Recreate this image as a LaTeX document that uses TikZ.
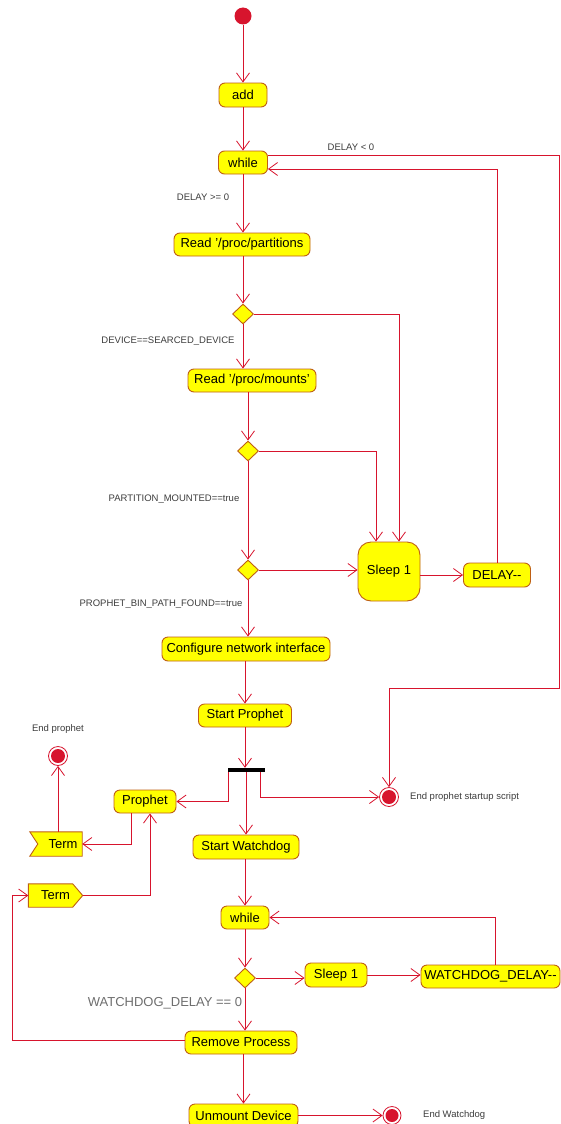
\documentclass[tikz,border=0pt]{standalone}
\usepackage{fontspec}
\setmainfont{Liberation Sans}
\usetikzlibrary{arrows.meta,shapes.geometric}
\definecolor{lred}{RGB}{215,20,45}
\definecolor{bord}{RGB}{190,95,20}
\definecolor{yel}{RGB}{255,255,0}
\definecolor{lbl}{RGB}{60,60,60}
\definecolor{lblg}{RGB}{110,110,110}
\begin{document}
\begin{tikzpicture}[x=1pt,y=-1pt,
  act/.style={draw=bord, fill=yel, rounded corners=6pt, inner sep=0pt, line width=0.9pt,
    font=\fontsize{13}{15}\selectfont, minimum height=23pt},
  dec/.style={diamond, draw=bord, fill=yel, inner sep=0pt, minimum width=21pt, minimum height=20pt, line width=0.9pt},
  flow/.style={draw=lred, line width=0.8pt, -{Straight Barb[length=9pt,width=13pt]}},
  lab/.style={font=\fontsize{9.5}{11}\selectfont, text=lbl, inner sep=0pt},
  biglab/.style={font=\fontsize{13}{15}\selectfont, text=lblg, inner sep=0pt},
  endst/.style={circle, draw=lred, fill=white, line width=0.8pt, minimum size=19pt, inner sep=0pt,
    path picture={\fill[lred] (path picture bounding box.center) circle (7pt);}},
  sig/.style={draw=bord, fill=yel, line width=0.9pt},
  sigtxt/.style={font=\fontsize{13}{15}\selectfont, inner sep=0pt},
]
\useasboundingbox (0,0) rectangle (561,1124);
\clip (0,0) rectangle (561,1124);

% nodes
\node[circle, fill=lred, minimum size=17pt, inner sep=0pt] (start) at (243,16) {};
\node[act, minimum width=48pt, minimum height=24pt] (add) at (243,95) {add};
\node[act, minimum width=49pt] (while1) at (243,162.5) {while};
\node[act, minimum width=136pt] (readpart) at (242,244.5) {Read '/proc/partitions};
\node[dec] (d1) at (243,314) {};
\node[act, minimum width=128pt] (readmnt) at (252,380.5) {Read '/proc/mounts'};
\node[dec] (d2) at (248,451) {};
\node[dec] (d3) at (248,570) {};
\node[act, rounded corners=13pt, minimum width=62pt, minimum height=59pt] (sleep1) at (389,571.5) {Sleep 1};
\node[act, minimum width=67pt, minimum height=24pt] (delay) at (497,575) {DELAY-{}-};
\node[act, minimum width=168pt, minimum height=24pt] (config) at (246,649) {Configure network interface};
\node[act, minimum width=93pt] (startp) at (245,715.5) {Start Prophet};
\node[fill=black, minimum width=37pt, minimum height=4pt, inner sep=0pt] (fork) at (246,770) {};
\node[act, minimum width=62pt] (prophet) at (145,801.5) {Prophet};
\node[endst] (endp) at (58,756) {};
\node[endst] (endscript) at (389,797) {};
\node[act, minimum width=106pt, minimum height=24pt] (startw) at (246,847) {Start Watchdog};
\node[minimum width=52pt, minimum height=24pt, inner sep=0pt] (term1) at (56,844) {};
\node[minimum width=54pt, minimum height=23pt, inner sep=0pt] (term2) at (55.5,895.5) {};
\node[act, minimum width=48pt] (while2) at (245,917.5) {while};
\node[dec] (d4) at (245,978) {};
\node[act, minimum width=62pt, minimum height=24pt] (sleep2) at (336,975) {Sleep 1};
\node[act, minimum width=139pt] (wdelay) at (490.5,976.5) {WATCHDOG\_DELAY-{}-};
\node[act, minimum width=112pt] (remove) at (241,1042.5) {Remove Process};
\node[act, minimum width=109pt] (unmount) at (243.5,1115.5) {Unmount Device};
\node[endst, minimum size=18pt, path picture={\fill[lred] (path picture bounding box.center) circle (6.5pt);}] (endw) at (392,1115.5) {};

% signal shapes
\draw[sig] (term1.north west) -- (term1.north east) -- (term1.south east) -- (term1.south west) -- ([xshift=8pt]term1.west) -- cycle;
\node[sigtxt] (term1t) at ([xshift=7pt]term1.center) {Term};
\draw[sig] (term2.north west) -- ([xshift=-10pt]term2.north east) -- (term2.east) -- ([xshift=-10pt]term2.south east) -- (term2.south west) -- cycle;
\node[sigtxt] (term2t) at ([xshift=0pt]term2.center) {Term};

% labels
\node[lab] (l1) at (203,197) {DELAY >= 0};
\node[lab] (l2) at (351,147) {DELAY < 0};
\node[lab] (l3) at (168,341) {DEVICE==SEARCED\_DEVICE};
\node[lab] (l4) at (174,499) {PARTITION\_MOUNTED==true};
\node[lab] (l5) at (161,604) {PROPHET\_BIN\_PATH\_FOUND==true};
\node[lab] (l6) at (58,729) {End prophet};
\node[lab, anchor=west] (l7) at (410,797) {End prophet startup script};
\node[biglab] (l8) at (165,1003) {WATCHDOG\_DELAY == 0};
\node[lab, anchor=west] (l9) at (423,1115) {End Watchdog};

% connectors
\draw[flow] (start) -- (add);
\draw[flow] (add) -- (while1);
\draw[flow] (while1) -- (while1 |- readpart.north);
\draw[flow] (readpart.south -| d1.north) -- (d1.north);
\draw[flow] (d1.south) -- (d1.south |- readmnt.north);
\draw[flow] (d1.east) -| ([xshift=10pt]sleep1.north);
\draw[flow] (readmnt.south -| d2.north) -- (d2.north);
\draw[flow] (d2.east) -| ([xshift=-13pt]sleep1.north);
\draw[flow] (d2.south) -- (d3.north);
\draw[flow] (d3.east) -- (d3.east -| sleep1.west);
\draw[flow] (sleep1.east |- delay.west) -- (delay.west);
\draw[flow] (delay.north) |- ([yshift=-6.5pt]while1.east);
\coordinate (rt) at (559,688);
\draw[flow] ([yshift=7.5pt]while1.east) -| (rt) -| (endscript.north);
\draw[flow] (d3.south) -- (d3.south |- config.north);
\draw[flow] (config.south -| startp.north) -- (startp.north);
\draw[flow] (startp.south) -- (startp.south |- fork.north);
\draw[flow] ([xshift=-18pt]fork.south) |- (prophet.east);
\draw[flow] ([xshift=14pt]fork.south) |- (endscript.west);
\draw[flow] (fork.south) -- (fork.south |- startw.north);
\draw[flow] ([xshift=-14pt]prophet.south) |- (term1.east);
\draw[flow] (term1.north -| endp.south) -- (endp.south);
\draw[flow] (term2.east) -| ([xshift=5pt]prophet.south);
\draw[flow] (startw.south -| while2.north) -- (while2.north);
\draw[flow] (while2) -- (d4);
\draw[flow] (d4.east) -- (d4.east -| sleep2.west);
\draw[flow] (sleep2.east) -- (sleep2.east -| wdelay.west);
\draw[flow] ([xshift=4.5pt]wdelay.north) |- (while2.east);
\draw[flow] (d4.south) -- (d4.south |- remove.north);
\draw[flow] ([yshift=2pt]remove.west) -| ([xshift=-16pt]term2.west) -- (term2.west);
\draw[flow] (remove.south -| unmount.north) -- (unmount.north);
\draw[flow] (unmount.east) -- (endw.west);
\end{tikzpicture}
\end{document}
